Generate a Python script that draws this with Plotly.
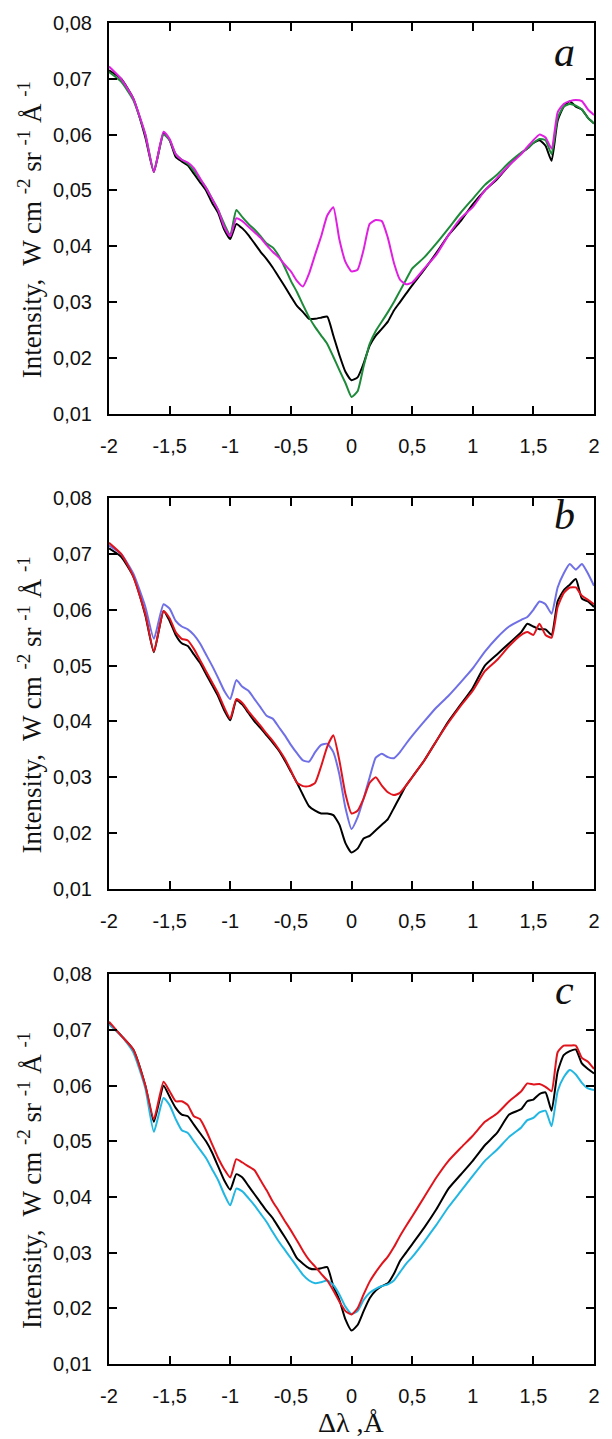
import plotly.graph_objects as go

# Shared wavelength grid (Δλ, Å)
X = [-2.0, -1.9, -1.8, -1.7, -1.63,
     -1.55, -1.5, -1.45, -1.4, -1.35, -1.3, -1.25, -1.2, -1.15, -1.1, -1.05,
     -1.0, -0.95, -0.9, -0.85, -0.8, -0.75, -0.7, -0.65, -0.6, -0.55,
     -0.5, -0.45, -0.4, -0.35, -0.3, -0.25, -0.2, -0.15, -0.1, -0.05,
     0.0, 0.05, 0.1, 0.15, 0.2, 0.25, 0.3, 0.35, 0.4, 0.45, 0.5,
     0.6, 0.7, 0.8, 0.9, 1.0, 1.1, 1.2, 1.3, 1.4,
     1.45, 1.5, 1.55, 1.6, 1.65, 1.7, 1.75, 1.8, 1.85, 1.9, 1.95, 2.0]

# Panel a
a_black = [0.0715, 0.0700, 0.0665, 0.0595, 0.0533,
           0.0603, 0.0590, 0.0560, 0.0552, 0.0545, 0.0530, 0.0515, 0.0500, 0.0478, 0.0460, 0.0430,
           0.0413, 0.0440, 0.0432, 0.0420, 0.0405, 0.0390, 0.0377, 0.0362, 0.0345, 0.0328,
           0.0310, 0.0293, 0.0282, 0.0270, 0.0270, 0.0272, 0.0274, 0.0240, 0.0205, 0.0175,
           0.0160, 0.0165, 0.0190, 0.0222, 0.0240, 0.0252, 0.0265, 0.0285, 0.0300, 0.0315, 0.0330,
           0.0358, 0.0388, 0.0420, 0.0445, 0.0475, 0.0500, 0.0520, 0.0545, 0.0567,
           0.0575, 0.0585, 0.0590, 0.0580, 0.0553, 0.0625, 0.0650, 0.0660, 0.0650, 0.0645, 0.0630, 0.0620]
a_green = [0.0712, 0.0695, 0.0662, 0.0600, 0.0535,
           0.0600, 0.0590, 0.0565, 0.0555, 0.0548, 0.0535, 0.0520, 0.0505, 0.0485, 0.0465, 0.0440,
           0.0420, 0.0465, 0.0452, 0.0440, 0.0430, 0.0418, 0.0405, 0.0398, 0.0383, 0.0362,
           0.0338, 0.0318, 0.0295, 0.0273, 0.0255, 0.0240, 0.0225, 0.0202, 0.0178, 0.0155,
           0.0130, 0.0140, 0.0185, 0.0225, 0.0248, 0.0265, 0.0282, 0.0300, 0.0320, 0.0340, 0.0360,
           0.0380, 0.0405, 0.0432, 0.0460, 0.0485, 0.0510, 0.0528, 0.0550, 0.0568,
           0.0575, 0.0585, 0.0592, 0.0590, 0.0565, 0.0630, 0.0650, 0.0655, 0.0652, 0.0645, 0.0630, 0.0620]
a_magenta = [0.0722, 0.0700, 0.0665, 0.0600, 0.0533,
             0.0605, 0.0592, 0.0565, 0.0555, 0.0550, 0.0540, 0.0522, 0.0505, 0.0485, 0.0465, 0.0435,
             0.0418, 0.0450, 0.0445, 0.0435, 0.0425, 0.0415, 0.0402, 0.0390, 0.0380, 0.0367,
             0.0355, 0.0338, 0.0328, 0.0351, 0.0385, 0.0418, 0.0455, 0.0470, 0.0412, 0.0372,
             0.0355, 0.0358, 0.0394, 0.0440, 0.0447, 0.0445, 0.0415, 0.0370, 0.0340, 0.0332, 0.0335,
             0.0360, 0.0385, 0.0420, 0.0450, 0.0470, 0.0500, 0.0522, 0.0545, 0.0565,
             0.0578, 0.0590, 0.0600, 0.0595, 0.0575, 0.0640, 0.0655, 0.0660, 0.0662, 0.0660, 0.0645, 0.0635]

# Panel b
b_black = [0.0710, 0.0695, 0.0660, 0.0590, 0.0524,
           0.0598, 0.0580, 0.0555, 0.0540, 0.0535, 0.0520, 0.0505, 0.0485, 0.0465, 0.0445, 0.0420,
           0.0402, 0.0438, 0.0430, 0.0415, 0.0400, 0.0388, 0.0375, 0.0362, 0.0348, 0.0330,
           0.0310, 0.0290, 0.0268, 0.0248, 0.0240, 0.0235, 0.0235, 0.0232, 0.0215, 0.0182,
           0.0165, 0.0172, 0.0190, 0.0195, 0.0205, 0.0215, 0.0225, 0.0245, 0.0265, 0.0285, 0.0300,
           0.0330, 0.0365, 0.0400, 0.0430, 0.0460, 0.0500, 0.0520, 0.0540, 0.0560,
           0.0575, 0.0570, 0.0565, 0.0565, 0.0555, 0.0615, 0.0635, 0.0645, 0.0655, 0.0620, 0.0615, 0.0605]
b_red = [0.0720, 0.0700, 0.0660, 0.0592, 0.0525,
         0.0598, 0.0585, 0.0560, 0.0548, 0.0545, 0.0530, 0.0510, 0.0490, 0.0470, 0.0450, 0.0425,
         0.0405, 0.0440, 0.0433, 0.0418, 0.0405, 0.0392, 0.0378, 0.0365, 0.0350, 0.0333,
         0.0312, 0.0290, 0.0284, 0.0284, 0.0290, 0.0320, 0.0355, 0.0375, 0.0330, 0.0270,
         0.0235, 0.0240, 0.0262, 0.0290, 0.0300, 0.0285, 0.0273, 0.0268, 0.0272, 0.0285, 0.0300,
         0.0330, 0.0365, 0.0398, 0.0428, 0.0455, 0.0490, 0.0510, 0.0535, 0.0555,
         0.0560, 0.0555, 0.0575, 0.0555, 0.0550, 0.0605, 0.0630, 0.0640, 0.0640, 0.0625, 0.0618, 0.0610]
b_blue = [0.0715, 0.0700, 0.0665, 0.0605, 0.0548,
          0.0610, 0.0602, 0.0580, 0.0570, 0.0565, 0.0555, 0.0540, 0.0520, 0.0500, 0.0478, 0.0455,
          0.0440, 0.0474, 0.0462, 0.0455, 0.0440, 0.0425, 0.0410, 0.0405, 0.0390, 0.0375,
          0.0358, 0.0343, 0.0330, 0.0328, 0.0345, 0.0358, 0.0360, 0.0345, 0.0305, 0.0245,
          0.0207, 0.0228, 0.0262, 0.0300, 0.0335, 0.0342, 0.0336, 0.0334, 0.0345, 0.0360, 0.0374,
          0.0400, 0.0425, 0.0446, 0.0470, 0.0495, 0.0525, 0.0550, 0.0570, 0.0582,
          0.0587, 0.0600, 0.0615, 0.0610, 0.0593, 0.0640, 0.0665, 0.0682, 0.0672, 0.0682, 0.0665, 0.0643]

# Panel c
c_black = [0.0712, 0.0690, 0.0665, 0.0600, 0.0535,
           0.0600, 0.0580, 0.0560, 0.0548, 0.0545, 0.0530, 0.0515, 0.0500, 0.0480, 0.0455, 0.0430,
           0.0413, 0.0441, 0.0435, 0.0420, 0.0405, 0.0390, 0.0375, 0.0362, 0.0345, 0.0328,
           0.0310, 0.0290, 0.0280, 0.0272, 0.0270, 0.0272, 0.0274, 0.0240, 0.0215, 0.0180,
           0.0160, 0.0170, 0.0195, 0.0218, 0.0232, 0.0240, 0.0245, 0.0262, 0.0285, 0.0300, 0.0315,
           0.0345, 0.0378, 0.0415, 0.0440, 0.0465, 0.0493, 0.0515, 0.0548, 0.0558,
           0.0572, 0.0575, 0.0585, 0.0588, 0.0555, 0.0625, 0.0655, 0.0662, 0.0665, 0.0640, 0.0630, 0.0622]
c_red = [0.0715, 0.0690, 0.0665, 0.0600, 0.0540,
         0.0607, 0.0590, 0.0572, 0.0572, 0.0565, 0.0545, 0.0540, 0.0520, 0.0495, 0.0470, 0.0450,
         0.0435, 0.0468, 0.0462, 0.0455, 0.0448, 0.0430, 0.0412, 0.0392, 0.0375, 0.0357,
         0.0340, 0.0322, 0.0303, 0.0287, 0.0275, 0.0262, 0.0250, 0.0232, 0.0212, 0.0195,
         0.0189, 0.0200, 0.0225, 0.0248, 0.0265, 0.0280, 0.0293, 0.0310, 0.0330, 0.0348, 0.0365,
         0.0400, 0.0435, 0.0465, 0.0488, 0.0510, 0.0535, 0.0550, 0.0572, 0.0590,
         0.0604, 0.0602, 0.0603, 0.0598, 0.0590, 0.0660, 0.0672, 0.0672, 0.0672, 0.0650, 0.0643, 0.0630]
c_cyan = [0.0710, 0.0690, 0.0660, 0.0595, 0.0517,
          0.0578, 0.0565, 0.0540, 0.0520, 0.0515, 0.0500, 0.0485, 0.0470, 0.0450, 0.0430, 0.0405,
          0.0385, 0.0415, 0.0410, 0.0398, 0.0385, 0.0370, 0.0355, 0.0337, 0.0320, 0.0305,
          0.0290, 0.0275, 0.0260, 0.0250, 0.0245, 0.0247, 0.0250, 0.0242, 0.0225, 0.0203,
          0.0190, 0.0195, 0.0215, 0.0228, 0.0235, 0.0240, 0.0243, 0.0250, 0.0265, 0.0280, 0.0292,
          0.0320, 0.0350, 0.0382, 0.0410, 0.0438, 0.0465, 0.0485, 0.0508, 0.0525,
          0.0538, 0.0542, 0.0552, 0.0555, 0.0527, 0.0590, 0.0615, 0.0628, 0.0620, 0.0605, 0.0595, 0.0592]

x_tickvals = [-2, -1.5, -1, -0.5, 0, 0.5, 1, 1.5, 2]
x_ticktext = ["-2", "-1,5", "-1", "-0,5", "0", "0,5", "1", "1,5", "2"]
y_tickvals = [0.01, 0.02, 0.03, 0.04, 0.05, 0.06, 0.07, 0.08]
y_ticktext = ["0,01", "0,02", "0,03", "0,04", "0,05", "0,06", "0,07", "0,08"]

panel_labels = ["a", "b", "c"]
y_title = "Intensity,  W cm <sup>-2</sup> sr <sup>-1</sup> Å <sup>-1</sup>"
x_title = "Δλ ,Å"

C_BLACK = "#000000"
C_GREEN = "#1e8b3a"
C_MAGENTA = "#e020e0"
C_RED = "#e0141c"
C_BLUE = "#6f6fe6"
C_CYAN = "#22b7e2"

panels = [
    [(a_black, C_BLACK), (a_green, C_GREEN), (a_magenta, C_MAGENTA)],
    [(b_black, C_BLACK), (b_blue, C_BLUE), (b_red, C_RED)],
    [(c_black, C_BLACK), (c_cyan, C_CYAN), (c_red, C_RED)],
]

W, H = 612, 1439
ML, MR, MT, MB = 109, 18, 15, 75
PH = H - MT - MB
# pixel extents of each panel (top, bottom)
panel_px = [(15, 408), (493, 886), (972, 1364)]
letter_y = [44, 510, 988]

def ydom(top, bot):
    return [(H - MB - bot) / PH, (H - MB - top) / PH]

fig = go.Figure()
for i, series in enumerate(panels):
    xa = "x" if i == 0 else f"x{i+1}"
    ya = "y" if i == 0 else f"y{i+1}"
    for vals, col in series:
        fig.add_trace(go.Scatter(x=X, y=vals, mode="lines", xaxis=xa, yaxis=ya,
                                 line=dict(color=col, width=2, shape="spline", smoothing=0.5),
                                 showlegend=False, hoverinfo="skip"))

axis_common = dict(showline=True, linecolor="black", linewidth=2, mirror="ticks",
                   ticks="inside", ticklen=8, tickwidth=2, tickcolor="black",
                   showgrid=False, zeroline=False,
                   tickfont=dict(family="Liberation Sans, Arial", size=20, color="#111"))

layout = dict(width=W, height=H, margin=dict(l=ML, r=MR, t=MT, b=MB),
              paper_bgcolor="white", plot_bgcolor="white", showlegend=False)
annotations = []
for i in range(3):
    top, bot = panel_px[i]
    suffix = "" if i == 0 else str(i + 1)
    layout["xaxis" + suffix] = dict(axis_common, range=[-2, 2], tickvals=x_tickvals,
                                    ticktext=x_ticktext, anchor="y" + suffix,
                                    domain=[0, 1], ticklabelstandoff=13)
    layout["yaxis" + suffix] = dict(axis_common, range=[0.01, 0.08], tickvals=y_tickvals,
                                    ticktext=y_ticktext, anchor="x" + suffix,
                                    domain=ydom(top, bot), ticklabelstandoff=11)
    # y-axis title
    annotations.append(dict(text=y_title, textangle=-90, xref="paper", yref="paper",
                            x=(30 - ML) / (W - ML - MR), y=1 - ((top + bot) / 2 + 12 - MT) / PH,
                            xanchor="center", yanchor="middle", showarrow=False,
                            font=dict(family="Liberation Serif, Times New Roman", size=27, color="#111")))
    # panel letter
    annotations.append(dict(text="<i>" + panel_labels[i] + "</i>", xref="paper", yref="paper",
                            x=(564 - ML) / (W - ML - MR), y=1 - (letter_y[i] - MT) / PH,
                            xanchor="center", yanchor="middle", showarrow=False,
                            font=dict(family="Liberation Serif, Times New Roman", size=42, color="#111")))
annotations.append(dict(text=x_title, xref="paper", yref="paper",
                        x=0.5, y=1 - (1423 - MT) / PH, xanchor="center", yanchor="middle",
                        showarrow=False,
                        font=dict(family="Liberation Serif, Times New Roman", size=28, color="#111")))
layout["annotations"] = annotations
fig.update_layout(**layout)
fig.write_html("out.html")
